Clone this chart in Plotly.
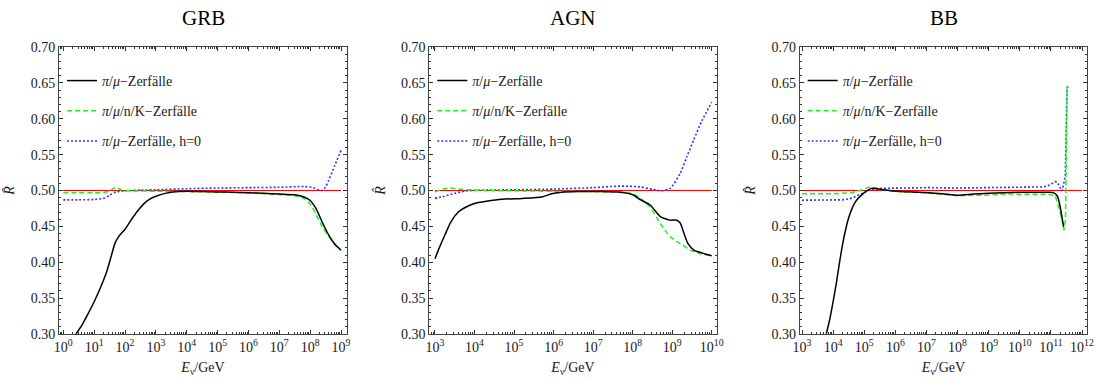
import plotly.graph_objects as go

# ---------------- data (log10 of E_nu/GeV, ratio R-hat) ----------------
# GRB
grb_black_logE = [0.41, 0.6, 0.8, 1.0, 1.2, 1.4, 1.55, 1.68, 1.8, 2.0, 2.2, 2.4, 2.6, 2.8, 3.0, 3.3, 3.7, 4.0, 4.5,
                  5.0, 5.5, 6.0, 6.5, 7.0, 7.5, 7.8, 8.0, 8.2, 8.4, 8.6, 8.8, 9.0]
grb_black_R = [0.300, 0.312, 0.328, 0.345, 0.364, 0.386, 0.408, 0.427, 0.436, 0.446, 0.459, 0.471, 0.481, 0.488,
               0.492, 0.496, 0.4985, 0.499, 0.4985, 0.498, 0.4975, 0.497, 0.496, 0.495, 0.494, 0.491, 0.486, 0.474,
               0.455, 0.438, 0.425, 0.417]
grb_green_logE = [0.0, 0.5, 1.0, 1.3, 1.5, 1.65, 1.75, 1.9, 2.2, 3.0, 4.0, 5.0, 6.0, 7.0, 7.5, 7.8, 8.0, 8.2, 8.4,
                  8.6, 8.8, 9.0]
grb_green_R = [0.497, 0.4968, 0.4968, 0.497, 0.4995, 0.5035, 0.5035, 0.5005, 0.4995, 0.499, 0.4985, 0.4978, 0.4965,
               0.4945, 0.4925, 0.489, 0.481, 0.466, 0.449, 0.436, 0.425, 0.416]
grb_blue_logE = [0.0, 0.5, 1.0, 1.3, 1.5, 1.7, 2.0, 2.5, 3.0, 4.0, 5.0, 6.0, 7.0, 7.8, 8.1, 8.3, 8.4, 8.5, 8.6,
                 8.8, 9.0]
grb_blue_R = [0.487, 0.487, 0.4875, 0.489, 0.4935, 0.498, 0.4995, 0.5005, 0.501, 0.5025, 0.5035, 0.504, 0.5045,
              0.5055, 0.504, 0.5005, 0.500, 0.505, 0.514, 0.535, 0.556]
grb_red_logE = [0.0, 9.0]
grb_red_R = [0.5, 0.5]

# AGN
agn_black_logE = [3.0, 3.1, 3.25, 3.4, 3.59, 3.75, 4.0, 4.3, 4.7, 5.2, 5.7, 5.95, 6.2, 6.6, 7.2, 7.7, 8.0, 8.2,
                  8.45, 8.7, 8.95, 9.1, 9.2, 9.3, 9.4, 9.55, 9.75, 10.0]
agn_black_R = [0.405, 0.419, 0.438, 0.456, 0.470, 0.476, 0.482, 0.485, 0.4878, 0.489, 0.491, 0.4955, 0.4975, 0.4985,
               0.4985, 0.4975, 0.494, 0.487, 0.4795, 0.4635, 0.4587, 0.4588, 0.455, 0.440, 0.426, 0.417, 0.413,
               0.409]
agn_green_logE = [3.0, 3.2, 3.38, 3.6, 4.0, 5.0, 6.0, 7.0, 7.5, 8.0, 8.2, 8.44, 8.7, 8.95, 9.2, 9.46, 9.7, 10.0]
agn_green_R = [0.498, 0.502, 0.5035, 0.502, 0.5005, 0.4995, 0.499, 0.4985, 0.498, 0.4955, 0.489, 0.477, 0.454,
               0.4355, 0.426, 0.417, 0.412, 0.409]
agn_blue_logE = [3.0, 3.2, 3.5, 3.8, 4.2, 5.0, 6.0, 7.0, 7.6, 7.9, 8.2, 8.5, 8.75, 8.95, 9.2, 9.37, 9.54, 9.75, 10.0]
agn_blue_R = [0.489, 0.4915, 0.496, 0.4995, 0.5005, 0.501, 0.502, 0.504, 0.506, 0.506, 0.505, 0.5015, 0.4995,
              0.503, 0.5235, 0.547, 0.570, 0.597, 0.623]
agn_red_logE = [3.0, 10.0]
agn_red_R = [0.5, 0.5]

# BB
bb_black_logE = [3.78, 3.9, 4.0, 4.1, 4.2, 4.3, 4.4, 4.5, 4.6, 4.7, 4.8, 4.92, 5.07, 5.25, 5.56, 6.05, 6.54, 7.03,
                 7.52, 8.01, 8.5, 8.99, 9.48, 9.97, 10.46, 10.96, 11.08, 11.21, 11.3, 11.36, 11.41]
bb_black_R = [0.300, 0.322, 0.345, 0.370, 0.398, 0.424, 0.445, 0.462, 0.474, 0.483, 0.489, 0.494, 0.499, 0.503,
              0.5015, 0.499, 0.498, 0.497, 0.4955, 0.4935, 0.495, 0.496, 0.497, 0.4975, 0.4975, 0.4975, 0.497,
              0.492, 0.477, 0.462, 0.449]
bb_green_logE = [3.0, 4.0, 4.58, 4.87, 5.14, 5.36, 5.66, 6.05, 7.03, 8.01, 8.5, 8.99, 9.48, 9.97, 10.46, 10.87,
                 11.13, 11.25, 11.36, 11.42, 11.47, 11.5, 11.52, 11.58]
bb_green_R = [0.4955, 0.4955, 0.497, 0.500, 0.5045, 0.504, 0.500, 0.4985, 0.4965, 0.4925, 0.4935, 0.4935, 0.495,
              0.495, 0.495, 0.4948, 0.4934, 0.4772, 0.4586, 0.4447, 0.46, 0.56, 0.644, 0.644]
bb_blue_logE = [3.0, 4.0, 4.3, 4.58, 4.87, 5.17, 5.56, 6.05, 7.03, 8.01, 8.99, 9.97, 10.46, 10.76, 10.97, 11.13,
                11.19, 11.28, 11.36, 11.46, 11.49, 11.52, 11.55]
bb_blue_R = [0.4865, 0.4865, 0.487, 0.489, 0.495, 0.5005, 0.503, 0.5035, 0.504, 0.5035, 0.504, 0.504, 0.505, 0.505,
             0.5077, 0.5123, 0.512, 0.506, 0.4995, 0.519, 0.58, 0.644, 0.644]
bb_red_logE = [3.0, 12.0]
bb_red_R = [0.5, 0.5]

titles = ["GRB", "AGN", "BB"]
legend_names = ["<i>π</i>/<i>μ</i>−Zerfälle", "<i>π</i>/<i>μ</i>/n/K−Zerfälle", "<i>π</i>/<i>μ</i>−Zerfälle, h=0"]
y_tickvals = [0.30, 0.35, 0.40, 0.45, 0.50, 0.55, 0.60, 0.65, 0.70]
y_ticktext = ["0.30", "0.35", "0.40", "0.45", "0.50", "0.55", "0.60", "0.65", "0.70"]
grb_xticks = list(range(0, 10))
agn_xticks = list(range(3, 11))
bb_xticks = list(range(3, 13))

# ---------------- figure ----------------
W, H = 1096, 378
FONT = "Liberation Serif"
BLACK, GREEN, BLUE, RED = "#000000", "#22ee22", "#3333ff", "#ff0000"
TXT = "#1a1a1a"

panels = [
    dict(title=titles[0], dom=(59, 347), rng=(-0.139, 9.194), ticks=grb_xticks,
         black=(grb_black_logE, grb_black_R), green=(grb_green_logE, grb_green_R),
         blue=(grb_blue_logE, grb_blue_R), red=(grb_red_logE, grb_red_R), spike=False),
    dict(title=titles[1], dom=(429.3, 716.7), rng=(2.856, 10.126), ticks=agn_xticks,
         black=(agn_black_logE, agn_black_R), green=(agn_green_logE, agn_green_R),
         blue=(agn_blue_logE, agn_blue_R), red=(agn_red_logE, agn_red_R), spike=False),
    dict(title=titles[2], dom=(799.7, 1087.3), rng=(2.926, 12.17), ticks=bb_xticks,
         black=(bb_black_logE, bb_black_R), green=(bb_green_logE, bb_green_R),
         blue=(bb_blue_logE, bb_blue_R), red=(bb_red_logE, bb_red_R), spike=True),
]

fig = go.Figure()
y_top, y_bot = 47, 334
ydom = [1 - y_bot / H, 1 - y_top / H]


def E(lst):
    return [10 ** v for v in lst]


for i, p in enumerate(panels):
    n = "" if i == 0 else str(i + 1)
    xa, ya = "x" + n, "y" + n
    leg = "legend" + n
    fig.add_trace(go.Scatter(x=E(p["red"][0]), y=p["red"][1], mode="lines", xaxis=xa, yaxis=ya,
                             line=dict(color=RED, width=1.2), showlegend=False, hoverinfo="skip"))
    shape_gb = "linear" if p["spike"] else "spline"
    fig.add_trace(go.Scatter(x=E(p["blue"][0]), y=p["blue"][1], mode="lines", xaxis=xa, yaxis=ya,
                             name=legend_names[2], legend=leg, legendgroup="c" + n, legendrank=3,
                             line=dict(color=BLUE, width=1.6, dash="2px,2px", shape=shape_gb,
                                       smoothing=0.6)))
    fig.add_trace(go.Scatter(x=E(p["green"][0]), y=p["green"][1], mode="lines", xaxis=xa, yaxis=ya,
                             name=legend_names[1], legend=leg, legendgroup="b" + n, legendrank=2,
                             line=dict(color=GREEN, width=1.5, dash="5px,3px", shape=shape_gb,
                                       smoothing=0.6)))
    fig.add_trace(go.Scatter(x=E(p["black"][0]), y=p["black"][1], mode="lines", xaxis=xa, yaxis=ya,
                             name=legend_names[0], legend=leg, legendgroup="a" + n, legendrank=1,
                             line=dict(color=BLACK, width=1.5, shape="spline", smoothing=0.6)))

    minor_vals = []
    for d in range(int(p["ticks"][0]) - 1, int(p["ticks"][-1]) + 1):
        for k in range(2, 10):
            minor_vals.append(k * 10 ** d)

    fig.layout["xaxis" + n] = dict(
        type="log", domain=[p["dom"][0] / W, p["dom"][1] / W], range=list(p["rng"]), anchor=ya,
        automargin=False,
        tickvals=[10 ** t for t in p["ticks"]], ticktext=["10<sup>%d</sup>" % t for t in p["ticks"]],
        ticks="inside", ticklen=4, tickwidth=1, tickcolor="#333", mirror="ticks",
        showline=True, linecolor="#444", linewidth=1, showgrid=False, zeroline=False,
        minor=dict(tickvals=minor_vals, ticks="inside", ticklen=2, tickcolor="#333", showgrid=False),
        tickfont=dict(family=FONT, size=14, color=TXT),
        title=dict(text="<i>E</i><sub>ν</sub>/GeV", font=dict(family=FONT, size=14, color=TXT),
                   standoff=8),
    )
    fig.layout["yaxis" + n] = dict(
        domain=ydom, range=[0.30, 0.70], anchor=xa, automargin=False,
        tickvals=y_tickvals, ticktext=y_ticktext,
        ticks="inside", ticklen=4, tickwidth=1, tickcolor="#333", mirror="ticks",
        showline=True, linecolor="#444", linewidth=1, showgrid=False, zeroline=False,
        minor=dict(dtick=0.01, ticks="inside", ticklen=2, tickcolor="#333", showgrid=False),
        tickfont=dict(family=FONT, size=14, color=TXT),
        title=dict(text="<i>R̂</i>", font=dict(family=FONT, size=14, color=TXT), standoff=12),
    )
    fig.layout[leg] = dict(
        x=(p["dom"][0] + 3) / W, y=1 - 65 / H, xanchor="left", yanchor="top",
        bgcolor="rgba(0,0,0,0)", borderwidth=0, itemwidth=30, tracegroupgap=9,
        traceorder="grouped", font=dict(family=FONT, size=14, color=TXT),
    )
    fig.add_annotation(text=p["title"], x=(p["dom"][0] + p["dom"][1]) / 2 / W, y=1 - 18 / H,
                       xref="paper", yref="paper", showarrow=False, xanchor="center", yanchor="middle",
                       font=dict(family=FONT, size=21, color="#000"))

fig.update_layout(width=W, height=H, margin=dict(l=0, r=0, t=0, b=0), plot_bgcolor="white",
                  paper_bgcolor="white", showlegend=True, font=dict(family=FONT))
fig.write_html("out.html")
